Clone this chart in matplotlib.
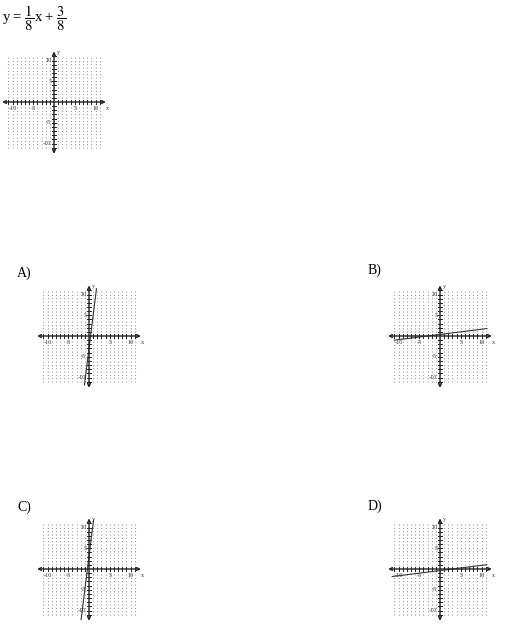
import matplotlib
matplotlib.use("Agg")
import matplotlib.pyplot as plt
import numpy as np

plt.rcParams['font.family'] = ['Liberation Serif', 'DejaVu Serif']
plt.rcParams['mathtext.fontset'] = 'stix'

W, H = 527, 634
S = 4.15          # pixels per unit
HALF = 13         # half size of each axes, units

# answer choices: slope, intercept, x range of the drawn segment
choice_names = ["A)", "B)", "C)", "D)"]
slopes = [8, 1/8, 8, 1/8]
intercepts = [-3, 3/8, 3, -3/8]
x_starts = [-1.1, -11.0, -1.9, -11.5]
x_ends = [1.8, 11.3, 1.1, 11.3]

tick_vals = [-10, -5, 5, 10]
grid_vals = np.arange(-11, 12)


def make_axes(fig, cx, cy):
    hp = HALF * S
    ax = fig.add_axes([(cx - hp) / W, (H - cy - hp) / H, 2 * hp / W, 2 * hp / H])
    ax.set_xlim(-HALF, HALF)
    ax.set_ylim(-HALF, HALF)
    ax.axis('off')

    # dotted grid (vertical dotted columns)
    for g in grid_vals:
        ax.plot([g, g], [-11, 11], color='#8a8a8a', lw=0.8, ls=(0, (0.8, 2.2)))

    # axes with arrows
    arr = dict(arrowstyle='<->', color='#222222', lw=1.0, mutation_scale=5,
               shrinkA=0, shrinkB=0)
    ax.annotate('', xy=(12.5, 0), xytext=(-12.5, 0), arrowprops=arr)
    ax.annotate('', xy=(0, 12.2), xytext=(0, -12.5), arrowprops=arr)

    # tick marks
    for g in grid_vals:
        if g == 0:
            continue
        ax.plot([g, g], [-0.45, 0.45], color='#222222', lw=0.7)
        ax.plot([-0.45, 0.45], [g, g], color='#222222', lw=0.7)

    for t in tick_vals:
        ax.text(t, -1.0, str(t), fontsize=4.5, ha='center', va='top', color='#333333')
        ax.text(-0.6, t, str(t), fontsize=4.5, ha='right', va='center', color='#333333')
    ax.text(13.0, -1.0, 'x', fontsize=4.5, ha='center', va='top', color='#333333')
    ax.text(0.6, 12.0, 'y', fontsize=4.5, ha='left', va='center', color='#333333')
    return ax


fig = plt.figure(figsize=(W / 100, H / 100), dpi=100)
fig.patch.set_facecolor('white')

fig.text(2 / W, 1 - 3 / H, r'y = $\dfrac{1}{8}$x + $\dfrac{3}{8}$', fontsize=10.5,
         ha='left', va='top')
make_axes(fig, 54, 102)

centers = [(89, 336), (440, 336), (89, 569), (440, 569)]
label_pos = [(17, 273), (368, 270), (17, 507), (368, 506)]

for name, m, b, x0, x1, (cx, cy), (lx, ly) in zip(
        choice_names, slopes, intercepts, x_starts, x_ends, centers, label_pos):
    ax = make_axes(fig, cx, cy)
    xs = np.array([x0, x1])
    ax.plot(xs, m * xs + b, color='#333333', lw=0.8)
    fig.text(lx / W, 1 - ly / H, name, fontsize=10, ha='left', va='center')

fig.savefig('out.png', dpi=100)
